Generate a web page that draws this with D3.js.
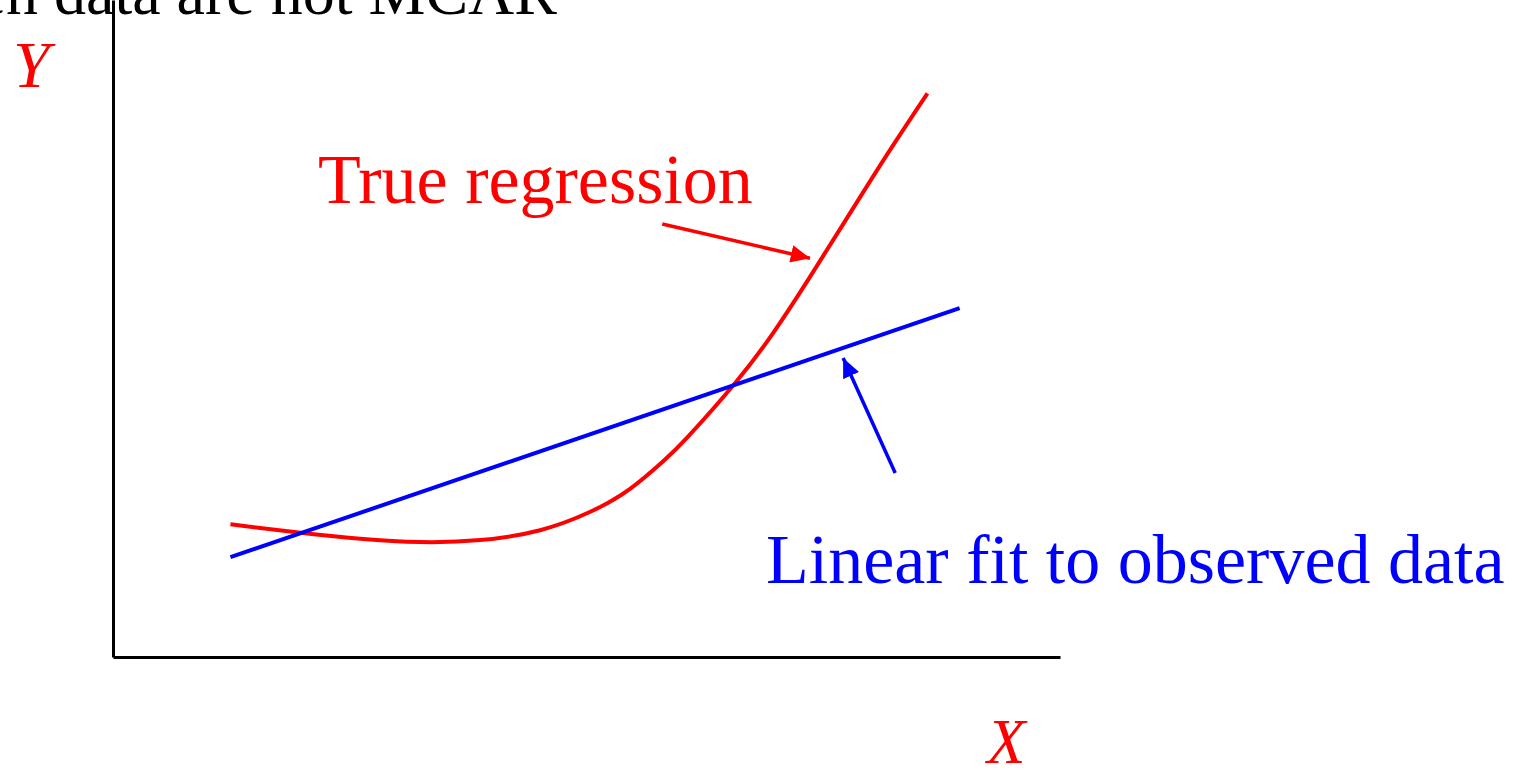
<!DOCTYPE html>
<html>
<head>
<meta charset="utf-8">
<script src="https://cdn.jsdelivr.net/npm/d3@7"></script>
<style>
  html, body { margin: 0; padding: 0; background: #fff; overflow: hidden; }
  svg { display: block; font-family: "Liberation Serif", "Times New Roman", serif; }
</style>
</head>
<body>
<svg id="chart" width="1520" height="770"></svg>
<script>
// ---- data (x, y in abstract 0..10 units) ----
const trueRegressionX = [1.24, 1.98, 2.61, 3.24, 3.88, 4.51, 5.04, 5.46, 5.81, 6.07, 6.57, 6.97, 7.34, 7.75, 8.17, 8.60];
const trueRegressionY = [2.02, 1.89, 1.80, 1.75, 1.78, 1.93, 2.21, 2.56, 2.98, 3.35, 4.17, 4.93, 5.74, 6.68, 7.64, 8.58];
const linearFitX = [1.24, 8.94];
const linearFitY = [1.52, 5.31];
const redArrowX = [5.80, 7.36];
const redArrowY = [6.59, 6.07];
const blueArrowX = [8.26, 7.71];
const blueArrowY = [2.80, 4.55];
const labels = {
  title: "Regression when data are not MCAR",
  yAxis: "Y",
  xAxis: "X",
  trueReg: "True regression",
  linFit: "Linear fit to observed data"
};

const svg = d3.select("#chart");
const x = d3.scaleLinear().domain([0, 10]).range([113, 1060]);
const y = d3.scaleLinear().domain([0, 10]).range([657, 0]);

// arrow markers
const defs = svg.append("defs");
[["arrRed", "#ff0000"], ["arrBlue", "#0000ff"]].forEach(([id, c]) => {
  defs.append("marker")
    .attr("id", id)
    .attr("viewBox", "0 0 10 10")
    .attr("refX", 10).attr("refY", 5)
    .attr("markerWidth", 5.5).attr("markerHeight", 5)
    .attr("markerUnits", "strokeWidth")
    .attr("orient", "auto")
    .attr("preserveAspectRatio", "none")
    .append("path").attr("d", "M0,0 L10,5 L0,10 Z").attr("fill", c);
});

// title (partially off-canvas, as in reference)
svg.append("text")
  .attr("x", 557).attr("y", 14)
  .attr("text-anchor", "end")
  .attr("font-size", 64)
  .attr("fill", "#000")
  .text(labels.title);

// axes (plain lines)
const xAxis = d3.axisBottom(x).tickValues([]).tickSizeOuter(0);
const yAxis = d3.axisLeft(y).tickValues([]).tickSizeOuter(0);
svg.append("g").attr("transform", `translate(0,${y(0)})`).call(xAxis)
  .select(".domain").attr("stroke", "#000").attr("stroke-width", 3);
svg.append("g").attr("transform", `translate(${x(0)},0)`).call(yAxis)
  .select(".domain").attr("stroke", "#000").attr("stroke-width", 3);

// axis labels
svg.append("text").attr("x", 13).attr("y", 87)
  .attr("font-size", 66).attr("font-style", "italic").attr("fill", "#ff0000")
  .text(labels.yAxis);
svg.append("text").attr("x", 987).attr("y", 763)
  .attr("font-size", 63).attr("font-style", "italic").attr("fill", "#ff0000")
  .text(labels.xAxis);

// true regression curve
const trueData = trueRegressionX.map((v, i) => [v, trueRegressionY[i]]);
svg.append("path")
  .datum(trueData)
  .attr("d", d3.line().x(d => x(d[0])).y(d => y(d[1])).curve(d3.curveNatural))
  .attr("fill", "none").attr("stroke", "#ff0000").attr("stroke-width", 4);

// linear fit
const linData = linearFitX.map((v, i) => [v, linearFitY[i]]);
svg.append("path")
  .datum(linData)
  .attr("d", d3.line().x(d => x(d[0])).y(d => y(d[1])))
  .attr("fill", "none").attr("stroke", "#0000ff").attr("stroke-width", 4);

// arrows
svg.append("line")
  .attr("x1", x(redArrowX[0])).attr("y1", y(redArrowY[0]))
  .attr("x2", x(redArrowX[1])).attr("y2", y(redArrowY[1]))
  .attr("stroke", "#ff0000").attr("stroke-width", 3.5)
  .attr("marker-end", "url(#arrRed)");
svg.append("line")
  .attr("x1", x(blueArrowX[0])).attr("y1", y(blueArrowY[0]))
  .attr("x2", x(blueArrowX[1])).attr("y2", y(blueArrowY[1]))
  .attr("stroke", "#0000ff").attr("stroke-width", 3.5)
  .attr("marker-end", "url(#arrBlue)");

// annotations
svg.append("text").attr("x", 318).attr("y", 203)
  .attr("font-size", 70).attr("fill", "#ff0000")
  .text(labels.trueReg);
svg.append("text").attr("x", 766).attr("y", 583)
  .attr("font-size", 70).attr("fill", "#0000ff")
  .text(labels.linFit);
</script>
</body>
</html>
